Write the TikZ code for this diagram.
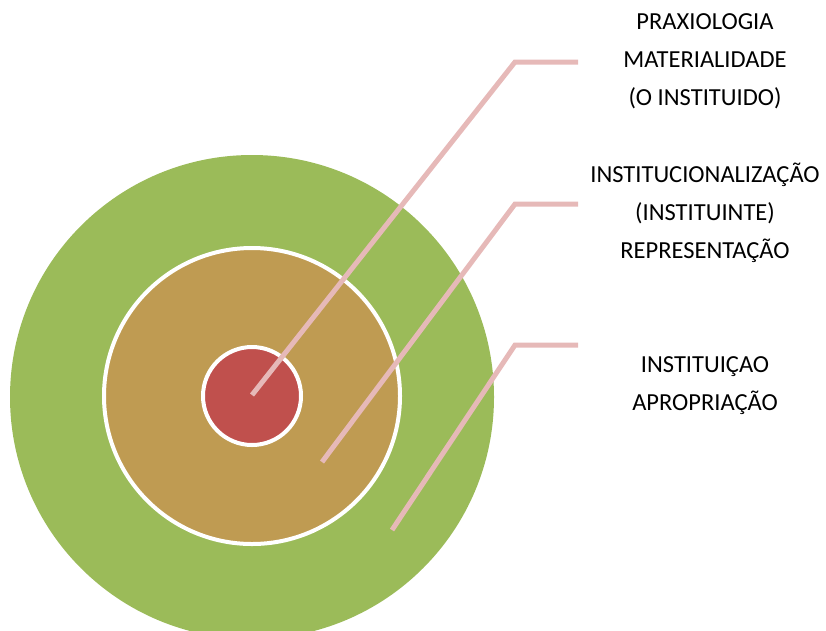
\documentclass[tikz,border=0pt]{standalone}
\usepackage{fontspec}
\setmainfont{Carlito}
\definecolor{ringgreen}{HTML}{9BBB59}
\definecolor{ringtan}{HTML}{BF9B52}
\definecolor{ringred}{HTML}{C0504D}
\definecolor{leadpink}{HTML}{E6B9B8}
\tikzset{
  ring/.style={circle, inner sep=0pt, draw=white, line width=4pt},
  lead/.style={draw=leadpink, line width=5pt},
  tag/.style={align=center, font=\fontsize{24.5}{38}\selectfont, text=black}
}

\begin{document}
\begin{tikzpicture}[x=1pt,y=-1pt]
\useasboundingbox (0,0) rectangle (826,630);
\clip (0,0) rectangle (826,630);

\node[ring, fill=ringgreen, draw=none, minimum size=484pt] (outer) at (252,397) {};
\node[ring, fill=ringtan, minimum size=296pt] (middle) at (252,396) {};
\node[ring, fill=ringred, minimum size=98pt] (inner) at (252,396) {};

% rotulos
\node[tag] (praxis) at (705,61) {PRAXIOLOGIA\\MATERIALIDADE\\(O INSTITUIDO)};
\node[tag] (instit) at (705,213) {INSTITUCIONALIZAÇÃO\\(INSTITUINTE)\\REPRESENTAÇÃO};
\node[tag] (aprop) at (705,386) {INSTITUIÇAO\\APROPRIAÇÃO};

\coordinate (p1) at (252,395);
\coordinate (p2) at (322,462);
\coordinate (p3) at (392,530);
\coordinate (k1) at (515,62);
\coordinate (k2) at (515,204);
\coordinate (k3) at (515,345);

\draw[lead] (p1) -- (k1) -- ++(63,0);
\draw[lead] (p2) -- (k2) -- ++(63,0);
\draw[lead] (p3) -- (k3) -- ++(63,0);
\end{tikzpicture}
\end{document}
